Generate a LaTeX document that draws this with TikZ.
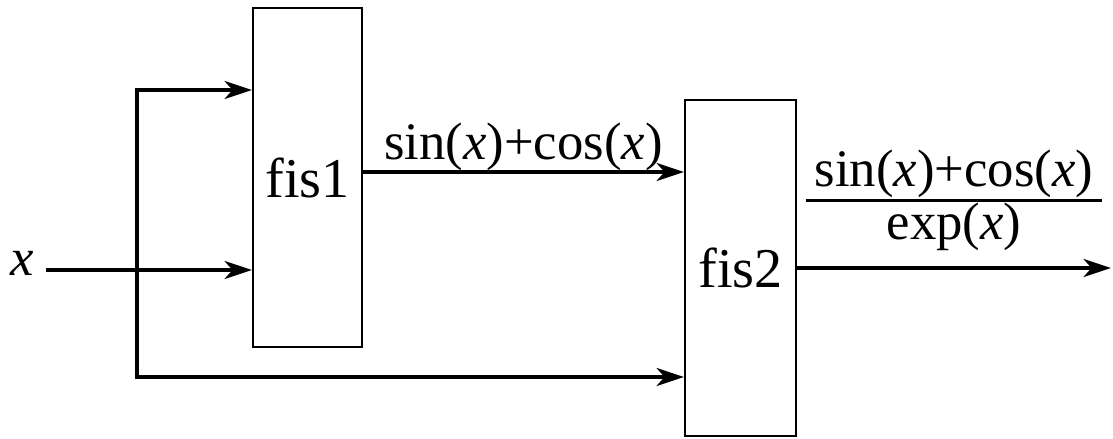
\documentclass[tikz,border=0pt]{standalone}
\usepackage{fontspec}
\setmainfont{Liberation Serif}
\usetikzlibrary{positioning,arrows.meta,calc}
\tikzset{
  fis-box/.style={draw,line width=1.1pt,minimum width=2.18cm,minimum height=6.78cm,
    inner sep=0pt,font=\fontsize{32}{38}\selectfont},
  sig/.style={line width=1.9pt,-{Stealth[length=5.5mm,width=3.6mm,inset=1.6mm]}},
  lbl/.style={font=\fontsize{30}{36}\selectfont,inner sep=2pt},
}
\begin{document}
\begin{tikzpicture}[x=0.02cm,y=-0.02cm]
  \useasboundingbox (0,0) rectangle (1113,439);
  \node[fis-box] (fis1) at (307.5,177.5) {fis1};
  \node[fis-box,minimum width=2.22cm,minimum height=6.72cm] (fis2) at (740.5,268) {fis2};
  \node[lbl,anchor=center,outer sep=5pt] (xin) at (22,263) {\textit{x}};
  % branch point and the two side feeds
  \coordinate (split) at (137,270);
  \coordinate (top) at (137,90);
  \coordinate (bot) at (137,377);
  \coordinate (yout) at (1111,268);
  \draw[sig] (xin.east |- split) -- (split -| fis1.west);
  \draw[sig] (split) -- (top) -- (top -| fis1.west);
  \draw[sig] (split) -- (bot) -- (bot -| fis2.west);
  \draw[sig] (fis1.east |- 0,172) -- node[lbl,above,yshift=-2pt]{sin(\textit{x})+cos(\textit{x})} (fis2.west |- 0,172);
  \draw[sig] (fis2.east |- yout) -- node[lbl,above,yshift=4pt]{%
    \setlength{\arrayrulewidth}{1.9pt}%
    \renewcommand{\arraystretch}{0.85}%
    \begin{tabular}{@{\hspace{5pt}}c@{\hspace{5pt}}}
      sin(\textit{x})+cos(\textit{x})\\[-2pt]\hline
      exp(\textit{x})
    \end{tabular}} (yout);
\end{tikzpicture}
\end{document}
